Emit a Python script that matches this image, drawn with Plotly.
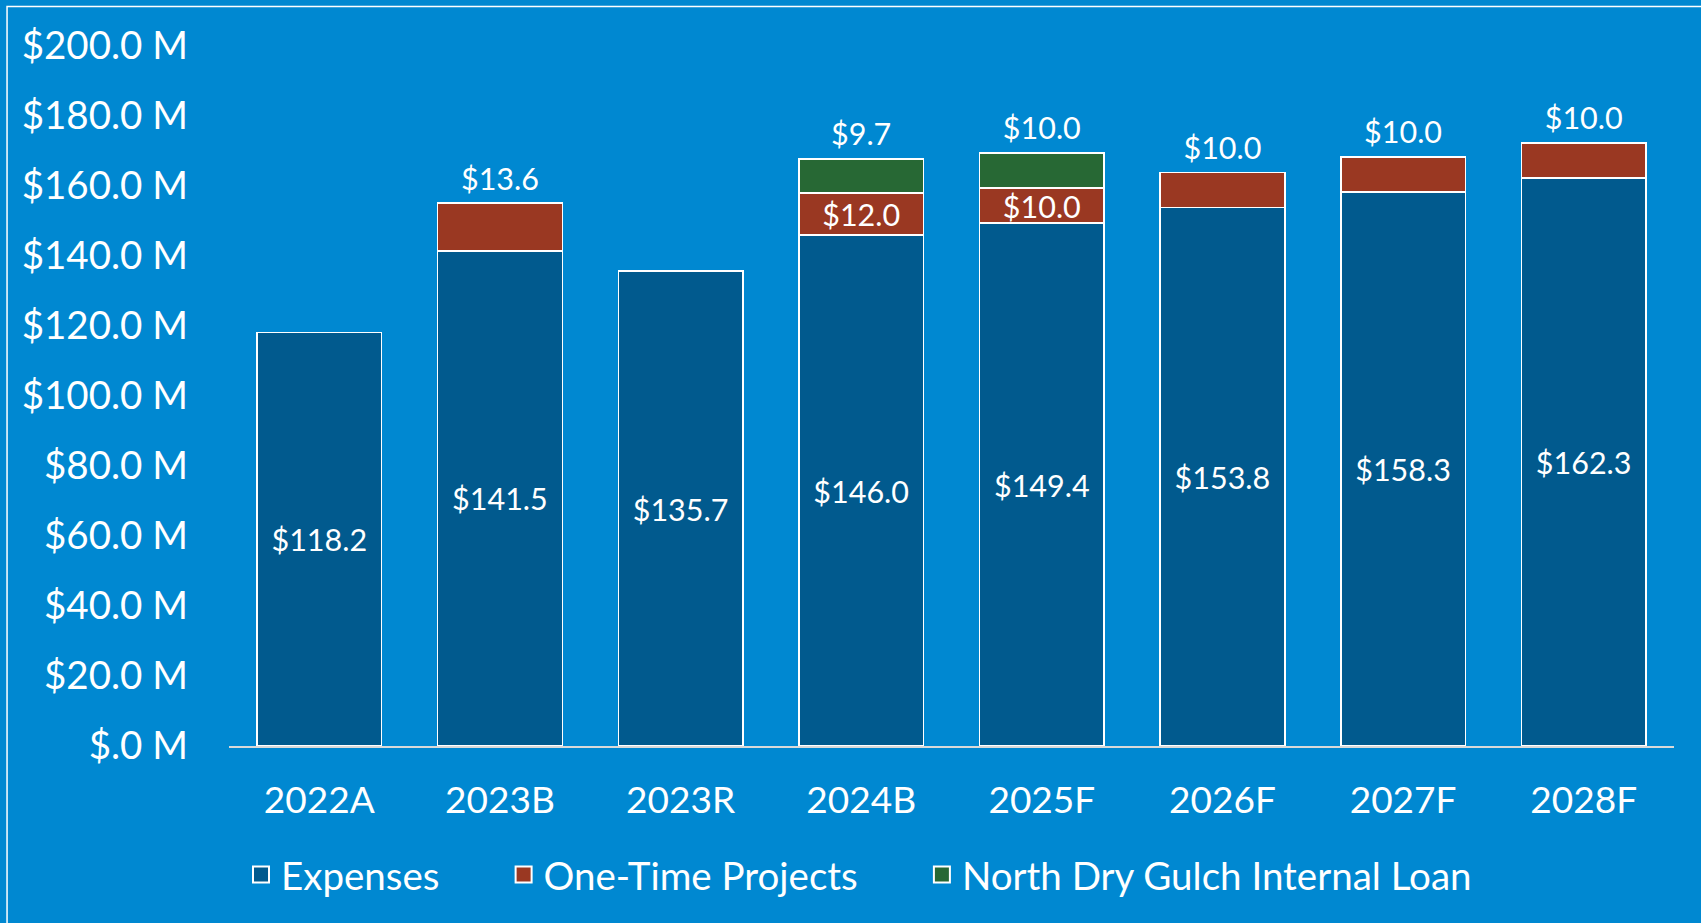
import plotly.graph_objects as go

categories = ["2022A", "2023B", "2023R", "2024B", "2025F", "2026F", "2027F", "2028F"]
expenses = [118.2, 141.5, 135.7, 146.0, 149.4, 153.8, 158.3, 162.3]
one_time = [None, 13.6, None, 12.0, 10.0, 10.0, 10.0, 10.0]
loan = [None, None, None, 9.7, 10.0, None, None, None]
y_tick_vals = [0, 20, 40, 60, 80, 100, 120, 140, 160, 180, 200]
y_tick_text = ["$.0 M", "$20.0 M", "$40.0 M", "$60.0 M", "$80.0 M", "$100.0 M",
               "$120.0 M", "$140.0 M", "$160.0 M", "$180.0 M", "$200.0 M"]

BG = "#0088D1"
NAVY = "#015A8E"
RED = "#9A3822"
GREEN = "#276834"
FONT = "Lato"

def fmt(v):
    return f"${v:.1f}"

totals = [e + (o or 0) + (l or 0) for e, o, l in zip(expenses, one_time, loan)]
# label of topmost segment goes above the bar; one-time label goes inside when loan sits on top
top_text = []
for o, l in zip(one_time, loan):
    if l:
        top_text.append(fmt(l))
    elif o:
        top_text.append(fmt(o))
    else:
        top_text.append("")
one_time_inside = [fmt(o) if (o and l) else "" for o, l in zip(one_time, loan)]

fig = go.Figure()
line = dict(color="white", width=1.5)
fig.add_trace(go.Bar(
    x=categories, y=expenses, name="Expenses", marker=dict(color=NAVY, line=line),
    text=[fmt(v) for v in expenses], textposition="inside", insidetextanchor="middle",
    constraintext="none", textfont=dict(family=FONT, size=30.5, color="white"),
    showlegend=False,
))
fig.add_trace(go.Bar(
    x=categories, y=one_time, name="One-Time Projects", marker=dict(color=RED, line=line),
    text=one_time_inside, textposition="inside", insidetextanchor="middle",
    constraintext="none", textfont=dict(family=FONT, size=30.5, color="white"),
    showlegend=False,
))
fig.add_trace(go.Bar(
    x=categories, y=loan, name="North Dry Gulch Internal Loan", marker=dict(color=GREEN, line=line),
    showlegend=False,
))
fig.add_trace(go.Scatter(
    x=categories, y=totals, mode="markers+text", text=top_text, textposition="top center",
    marker=dict(size=8, color="rgba(0,0,0,0)"),
    textfont=dict(family=FONT, size=30.5, color="white"), showlegend=False, cliponaxis=False,
    hoverinfo="skip",
))
# legend entries
pad = "\u00a0" * 6
for nm, col in [("Expenses" + pad, NAVY), ("One-Time Projects" + pad, RED),
                ("North Dry Gulch Internal Loan", GREEN)]:
    fig.add_trace(go.Scatter(
        x=[categories[0]], y=[None], mode="markers", name=nm,
        marker=dict(symbol="square", size=16, color=col, line=dict(color="white", width=2)),
    ))

fig.update_layout(
    width=1701, height=923,
    paper_bgcolor=BG, plot_bgcolor=BG,
    barmode="stack", bargap=0.31,
    margin=dict(l=229, r=27, t=46, b=177),
    font=dict(family=FONT, size=38, color="white"),
    showlegend=True,
    legend=dict(orientation="h", xref="container", yref="container", x=0.505, xanchor="center",
                y=0.052, yanchor="middle", font=dict(family=FONT, size=38.5, color="white"),
                bgcolor="rgba(0,0,0,0)", itemsizing="trace", traceorder="normal"),
    xaxis=dict(showline=True, linecolor="#D9D9D9", linewidth=2, showgrid=False,
               tickfont=dict(family=FONT, size=37, color="white"), ticks="",
               ticklabelstandoff=21),
    yaxis=dict(range=[0, 200], showgrid=False, zeroline=False, showline=False,
               tickvals=y_tick_vals, ticktext=y_tick_text, ticks="",
               tickfont=dict(family=FONT, size=38.5, color="white"), ticklabelstandoff=40),
    shapes=[dict(type="rect", xref="paper", yref="paper", x0=-0.1536, x1=1.2,
                 y0=-0.5, y1=1.0566, line=dict(color="white", width=1.5),
                 fillcolor="rgba(0,0,0,0)", layer="below")],
)

fig.write_html("out.html", config={"displayModeBar": False},
               post_script="document.body.style.margin='0';document.body.style.background='" + BG + "';")
